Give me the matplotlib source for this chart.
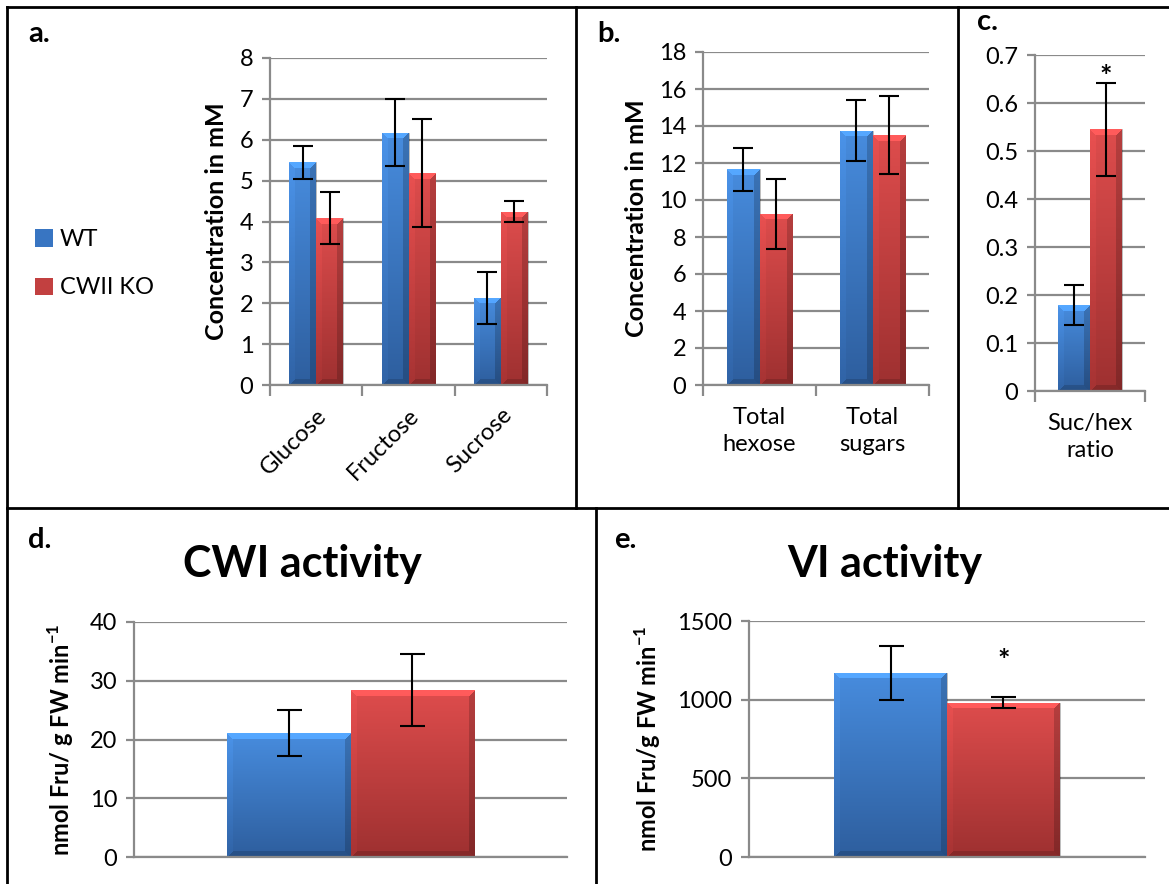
import matplotlib.pyplot as plt
import numpy as np
from matplotlib.lines import Line2D
from matplotlib.patches import Patch

plt.rcParams['font.family'] = ['Lato', 'DejaVu Sans']
plt.rcParams['mathtext.fontset'] = 'custom'
plt.rcParams['mathtext.rm'] = 'Lato'
plt.rcParams['mathtext.bf'] = 'Lato:bold'

# data
groups = ['WT', 'CWII KO']

sugars = ['Glucose', 'Fructose', 'Sucrose']
sugar_wt = [5.45, 6.17, 2.13]
sugar_wt_err = [0.40, 0.82, 0.63]
sugar_ko = [4.08, 5.18, 4.24]
sugar_ko_err = [0.63, 1.32, 0.26]

totals = ['Total\nhexose', 'Total\nsugars']
total_wt = [11.65, 13.75]
total_wt_err = [1.15, 1.65]
total_ko = [9.25, 13.5]
total_ko_err = [1.9, 2.1]

ratio_names = ['Suc/hex\nratio']
ratio_wt = [0.179]
ratio_wt_err = [0.041]
ratio_ko = [0.545]
ratio_ko_err = [0.097]

cwi_wt = [21.1]
cwi_wt_err = [3.9]
cwi_ko = [28.4]
cwi_ko_err = [6.1]

vi_wt = [1170]
vi_wt_err = [170]
vi_ko = [980]
vi_ko_err = [35]

BLUE = ((0.28, 0.55, 0.87), (0.18, 0.37, 0.62))
RED = ((0.87, 0.30, 0.30), (0.62, 0.19, 0.19))
GRID = '#8a8a8a'
W, H = 1169, 884

fig = plt.figure(figsize=(W / 100, H / 100), dpi=100)


def box(l, t, r, b):
    return [l / W, 1 - b / H, (r - l) / W, (b - t) / H]


def setup(ax, ymax, step, xlabels, xticks=True):
    ax.set_ylim(0, ymax)
    ax.set_yticks(np.arange(0, ymax + step / 2, step))
    ax.yaxis.grid(True, color=GRID, lw=1.6)
    ax.set_axisbelow(True)
    for s in ['top', 'right']:
        ax.spines[s].set_visible(False)
    for s in ['left', 'bottom']:
        ax.spines[s].set_color(GRID)
        ax.spines[s].set_linewidth(1.6)
    ax.tick_params(axis='y', length=6, width=1.6, color=GRID, labelsize=17, pad=6)
    n = len(xlabels)
    ax.set_xlim(-0.5, n - 0.5)
    ax.set_xticks(np.arange(n))
    ax.set_xticklabels(xlabels, linespacing=1.35)
    ax.tick_params(axis='x', length=0, labelsize=17, pad=16)
    if xticks:
        ax.set_xticks(np.arange(n + 1) - 0.5, minor=True)
        ax.tick_params(axis='x', which='minor', length=8, width=1.6, color=GRID)


def shade(ax, bars, cols):
    top, bot = np.array(cols[0]), np.array(cols[1])
    for b in bars:
        x0, y0, w, h = b.get_x(), b.get_y(), b.get_width(), b.get_height()
        p0 = ax.transData.transform((x0, y0))
        p1 = ax.transData.transform((x0 + w, y0 + h))
        nc = max(int(p1[0] - p0[0]), 2)
        nr = max(int(p1[1] - p0[1]), 2)
        t = np.linspace(0, 1, nr)[:, None, None]
        img = top * (1 - t) + bot * t
        img = np.repeat(img, nc, axis=1)
        r = np.arange(nr)[:, None]
        c = np.arange(nc)[None, :]
        d = np.stack([r + 0 * c, c + 0 * r, nc - 1 - c + 0 * r, nr - 1 - r + 0 * c])
        edge = d.argmin(axis=0)
        near = d.min(axis=0) < 6
        fac = np.array([1.2, 1.05, 0.82, 0.85])[edge]
        fac = np.where(near, fac, 1.0)
        img = np.clip(img * fac[:, :, None], 0, 1)
        im = ax.imshow(img, extent=[x0, x0 + w, y0, y0 + h], aspect='auto',
                       origin='upper', zorder=2, interpolation='nearest')
        im.set_clip_path(b)
        b.set_facecolor('none')
        b.set_edgecolor((0, 0, 0, 0.3))
        b.set_linewidth(0.6)


def pair(ax, wt, wt_err, ko, ko_err, width=0.29, capsize=7):
    x = np.arange(len(wt))
    eb = dict(ecolor='black', elinewidth=1.5, capsize=capsize, capthick=1.5, zorder=4)
    b1 = ax.bar(x - width / 2, wt, width, yerr=wt_err, error_kw=eb, zorder=2)
    b2 = ax.bar(x + width / 2, ko, width, yerr=ko_err, error_kw=eb, zorder=2)
    return b1, b2


def star(ax, x, y, dy):
    ax.annotate('*', (x, y), xytext=(0, dy), textcoords='offset points',
                ha='center', va='center', fontsize=21, fontweight='bold')


# a. individual sugars
ax_a = fig.add_axes(box(270, 58, 547, 385))
setup(ax_a, 8, 1, sugars)
ba = pair(ax_a, sugar_wt, sugar_wt_err, sugar_ko, sugar_ko_err)
for lab in ax_a.get_xticklabels():
    lab.set_rotation(45)
    lab.set_ha('right')
    lab.set_rotation_mode('anchor')
ax_a.tick_params(axis='x', pad=14)
ax_a.set_ylabel('Concentration in mM', fontsize=18, fontweight='bold', labelpad=8)

# b. totals
ax_b = fig.add_axes(box(703, 52, 929, 385))
setup(ax_b, 18, 2, totals)
bb = pair(ax_b, total_wt, total_wt_err, total_ko, total_ko_err)
ax_b.set_ylabel('Concentration in mM', fontsize=18, fontweight='bold', labelpad=8)

# c. ratio
ax_c = fig.add_axes(box(1035, 55, 1145, 391))
setup(ax_c, 0.7, 0.1, ratio_names)
ax_c.set_yticklabels(['0'] + ['%.1f' % v for v in np.arange(0.1, 0.75, 0.1)])
bc = pair(ax_c, ratio_wt, ratio_wt_err, ratio_ko, ratio_ko_err)
star(ax_c, 0.145, ratio_ko[0] + ratio_ko_err[0], 4)

# d. CWI activity
ax_d = fig.add_axes(box(134, 622, 567, 857))
setup(ax_d, 40, 10, [''], xticks=False)
bd = pair(ax_d, cwi_wt, cwi_wt_err, cwi_ko, cwi_ko_err, width=0.285, capsize=9)
ax_d.set_ylabel(r'nmol Fru/ g FW min$^{\mathbf{-1}}$', fontsize=17, fontweight='bold', labelpad=10)
fig.text(302 / W, 1 - 564 / H, 'CWI activity', fontsize=31, fontweight='bold',
         ha='center', va='center')

# e. VI activity
ax_e = fig.add_axes(box(749, 621, 1145, 857))
setup(ax_e, 1500, 500, [''], xticks=False)
be = pair(ax_e, vi_wt, vi_wt_err, vi_ko, vi_ko_err, width=0.285, capsize=9)
ax_e.set_ylabel(r'nmol Fru/g FW min$^{\mathbf{-1}}$', fontsize=17, fontweight='bold', labelpad=10)
fig.text(885 / W, 1 - 564 / H, 'VI activity', fontsize=31, fontweight='bold',
         ha='center', va='center')
star(ax_e, 0.1425, vi_ko[0] + vi_ko_err[0], 26)

for ax, (b1, b2) in [(ax_a, ba), (ax_b, bb), (ax_c, bc), (ax_d, bd), (ax_e, be)]:
    shade(ax, b1, BLUE)
    shade(ax, b2, RED)

# legend
handles = [Patch(facecolor=(0.22, 0.46, 0.76), edgecolor='none'),
           Patch(facecolor=(0.76, 0.25, 0.25), edgecolor='none')]
fig.legend(handles, groups, loc='upper left', bbox_to_anchor=(14 / W, 1 - 208 / H),
           frameon=False, fontsize=17, handlelength=0.75, handleheight=0.75,
           handletextpad=0.3, labelspacing=1.15)

# panel letters
for txt, x, y in [('a.', 28, 42), ('b.', 597, 42), ('c.', 977, 30), ('d.', 28, 548), ('e.', 614, 548)]:
    fig.text(x / W, 1 - y / H, txt, fontsize=21, fontweight='bold')

# panel borders
lines = [((7, 7), (W, 7)), ((7, 7), (7, H)), ((576, 7), (576, 508)),
         ((958, 7), (958, 508)), ((7, 508), (W, 508)), ((596, 508), (596, H))]
for (x0, y0), (x1, y1) in lines:
    fig.add_artist(Line2D([x0 / W, x1 / W], [1 - y0 / H, 1 - y1 / H],
                          transform=fig.transFigure, color='black', lw=2))

fig.savefig('out.png', dpi=100)
